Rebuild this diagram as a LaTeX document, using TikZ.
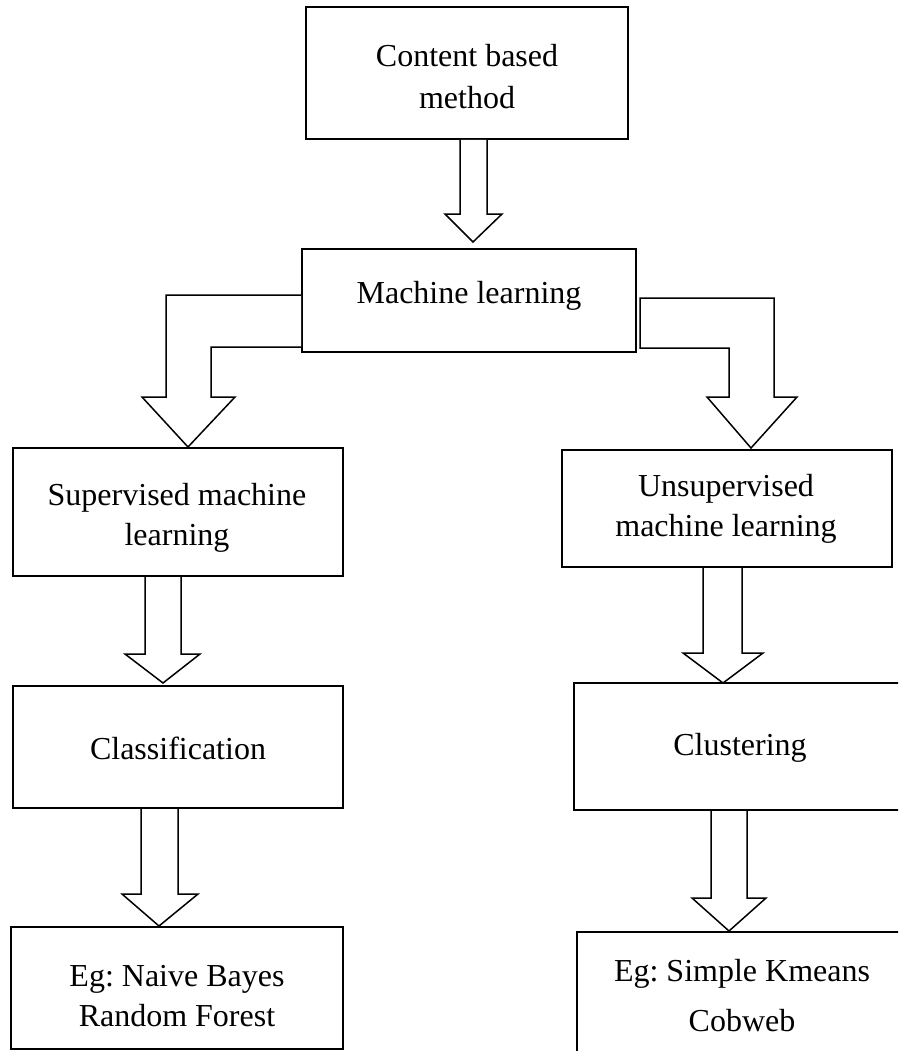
\documentclass[tikz,border=0pt]{standalone}
\usepackage{fontspec}
\setmainfont{Liberation Serif}
\frenchspacing
\begin{document}
\begin{tikzpicture}[x=1pt,y=1pt,
  box/.style={draw, line width=2pt, rectangle, inner sep=0pt},
  txt/.style={inner sep=0pt, align=center, font=\fontsize{32}{40}\selectfont},
  barrow/.style={draw, line width=1.5pt, line join=miter, fill=white}]
\useasboundingbox (0,0) rectangle (898,-1051);
\clip (0,0) rectangle (898,-1051);

% boxes
\node[box, minimum width=322pt, minimum height=132pt] (content) at (467,-73) {};
\node[box, minimum width=334pt, minimum height=103pt] (ml) at (469,-300.5) {};
\node[box, minimum width=330pt, minimum height=128pt] (sup) at (178,-512) {};
\node[box, minimum width=330pt, minimum height=117pt] (unsup) at (727,-508.5) {};
\node[box, minimum width=330pt, minimum height=122pt] (class) at (178,-747) {};
\node[box, minimum width=332pt, minimum height=127pt] (clust) at (740,-746.5) {};
\node[box, minimum width=332pt, minimum height=122pt] (egl) at (177,-988) {};
\node[box, minimum width=330pt, minimum height=133pt] (egr) at (742,-998.5) {};

% box labels
\node[txt] (content-t) at (467,-77) {Content based\\[2pt]method};
\node[txt] (ml-t) at (469,-296) {Machine learning};
\node[txt] (sup-t) at (177,-518) {Supervised machine\\learning};
\node[txt] (unsup-t) at (726,-509) {Unsupervised\\machine learning};
\node[txt] (class-t) at (178,-748) {Classification};
\node[txt] (clust-t) at (740,-748) {Clustering};
\node[txt] (egl-t) at (177,-996) {Eg: Naive Bayes\\Random Forest};
\node[txt] (egr-t) at (742,-996) {Eg: Simple Kmeans\\[10pt]Cobweb};

% block arrows
\draw[barrow] ([xshift=-7pt]content.south) -- ++(0,-74) -- ++(-15,0) -- ++(28,-28)
  -- ++(29,28) -- ++(-15,0) -- ++(0,74);

\draw[barrow] ([yshift=5.5pt]ml.west) -- ++(-135,0) -- ++(0,-102) -- ++(-24,0)
  -- ++(46,-50) -- ++(47,50) -- ++(-24,0) -- ++(0,50) -- ++(90,0);

\draw[barrow] ([xshift=3pt,yshift=2.5pt]ml.east) -- ++(134,0) -- ++(0,-99) -- ++(23,0)
  -- ++(-46,-51) -- ++(-44,51) -- ++(22,0) -- ++(0,49) -- ++(-89,0) -- cycle;

\draw[barrow] ([xshift=-33pt]sup.south) -- ++(0,-77) -- ++(-20,0) -- ++(38,-29)
  -- ++(37,29) -- ++(-19,0) -- ++(0,77);

\draw[barrow] ([xshift=-24pt]unsup.south) -- ++(0,-85) -- ++(-20,0) -- ++(40,-30)
  -- ++(40,30) -- ++(-21,0) -- ++(0,85);

\draw[barrow] ([xshift=-37pt]class.south) -- ++(0,-85) -- ++(-19,0) -- ++(37,-32)
  -- ++(39,32) -- ++(-20,0) -- ++(0,85);

\draw[barrow] ([xshift=-29pt]clust.south) -- ++(0,-87) -- ++(-19,0) -- ++(37,-33)
  -- ++(37,33) -- ++(-19,0) -- ++(0,87);
\end{tikzpicture}
\end{document}
